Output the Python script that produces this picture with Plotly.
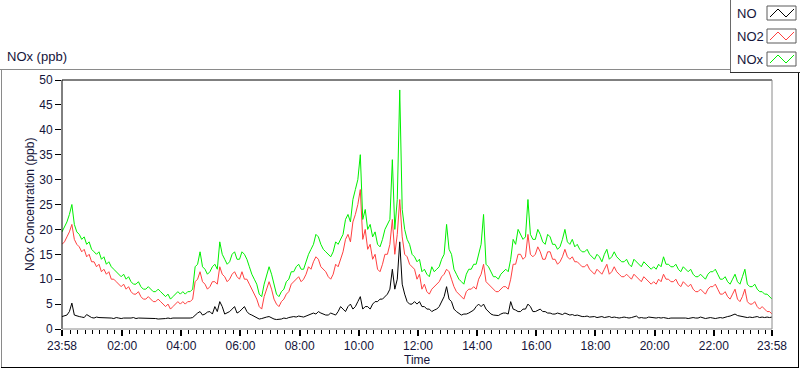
import pandas as pd
import plotly.graph_objects as go

# ---------------- data (5-minute readings, 23:58 -> 23:58 next day) ----------------
start_time = "2015-01-01 23:58"
step = "5min"

no_ppb = [
    2.5, 2.7, 2.8, 3.5, 5.2, 2.8, 2.6, 2.5, 2.4, 2.3, 2.9, 2.6,
    2.3, 2.2, 2.4, 2.3, 2.3, 2.2, 2.2, 2.3, 2.2, 2.1, 2.3, 2.2,
    2.1, 2.2, 2.2, 2.1, 2.2, 2.3, 2.1, 2.2, 2.2, 2.1, 2.1, 2.2,
    2.2, 2.1, 2.1, 2.0, 2.0, 2.1, 2.1, 2.2, 2.1, 2.2, 2.2, 2.1,
    2.2, 2.1, 2.1, 2.2, 2.2, 2.3, 2.8, 3.2, 3.5, 2.8, 3.0, 3.4,
    3.5, 3.0, 4.5, 3.5, 5.5, 4.5, 3.0, 3.2, 3.5, 4.0, 4.5, 3.2,
    3.5, 4.0, 4.5, 3.5, 3.0, 2.8, 2.5, 2.2, 2.0, 2.1, 2.3, 2.4,
    2.5, 2.2, 2.0, 1.9, 1.9, 2.0, 2.2, 2.1, 2.3, 2.4, 2.5, 2.4,
    2.6, 2.5, 2.4, 2.6, 2.8, 3.0, 3.2, 3.0, 3.5, 3.2, 3.0, 2.8,
    2.8, 3.2, 3.0, 2.8, 3.5, 4.5, 4.0, 3.5, 4.5, 5.0, 4.0, 4.5,
    5.5, 6.5, 4.0, 4.5, 4.5, 4.0, 5.0, 5.5, 5.5, 6.0, 6.0, 6.5,
    7.0, 8.0, 12.0, 8.0, 10.0, 17.5, 9.0, 7.0, 5.5, 5.0, 5.0, 5.5,
    5.0, 5.5, 4.5, 4.5, 4.0, 4.0, 3.5, 3.8, 4.0, 4.5, 5.5, 6.5,
    8.5, 6.0, 5.5, 4.0, 3.5, 3.2, 2.8, 3.0, 3.0, 3.2, 3.5, 3.8,
    4.5, 5.0, 4.5, 5.0, 4.0, 3.5, 3.0, 2.8, 2.8, 2.7, 3.0, 3.2,
    3.2, 3.0, 5.5, 4.0, 3.8, 3.5, 3.5, 4.0, 4.0, 5.0, 4.5, 3.5,
    3.5, 3.8, 4.0, 3.5, 3.5, 3.2, 3.2, 3.0, 3.0, 3.2, 3.0, 2.9,
    3.2, 3.0, 2.8, 2.9, 2.7, 2.8, 2.6, 2.5, 2.5, 2.6, 2.4, 2.5,
    2.5, 2.3, 2.4, 2.5, 2.3, 2.4, 2.5, 2.3, 2.4, 2.3, 2.2, 2.3,
    2.4, 2.3, 2.2, 2.3, 2.4, 2.6, 2.2, 2.3, 2.2, 2.2, 2.4, 2.3,
    2.3, 2.2, 2.3, 2.2, 2.3, 2.2, 2.1, 2.2, 2.2, 2.3, 2.2, 2.2,
    2.3, 2.2, 2.1, 2.2, 2.3, 2.2, 2.2, 2.4, 2.2, 2.1, 2.2, 2.3,
    2.2, 2.1, 2.2, 2.3, 2.2, 2.4, 2.5, 2.6, 2.8, 3.0, 2.7, 2.6,
    2.5, 2.4, 2.3, 2.4, 2.3, 2.4, 2.5, 2.3, 2.4, 2.3, 2.4, 2.3, 2.4,
]

no2_ppb = [
    17, 17.5, 18.5, 19.5, 21, 18, 17, 16.5, 15.5, 16, 14.5, 15,
    13.5, 13.5, 12.5, 13, 11.5, 12, 11, 11.5, 10, 10, 9.5, 9,
    8.5, 9, 8, 8.5, 7.5, 7, 7, 7.5, 6.5, 6, 6, 6.5,
    6, 5.5, 5.5, 6, 5.5, 5, 4.5, 5, 4, 4.5, 5, 5.5,
    5, 5.5, 5, 5.5, 5.5, 6, 9.5, 10, 11.5, 9.5, 9, 8,
    8.5, 9.5, 9.5, 9, 12.5, 11, 10.5, 9.5, 10, 11, 11.5, 10.5,
    10, 11.5, 10, 10, 9, 8, 7, 6, 4.5, 4, 6.5, 8,
    9.5, 8, 6, 5, 4.5, 5.5, 6, 7, 7.5, 9, 9.5, 10,
    10.5, 9.5, 10, 11, 12.5, 12, 13.5, 14.5, 14, 12.5, 12, 11.5,
    10.5, 10, 11, 13, 12.5, 14, 15.5, 18, 19, 17.5, 21.5, 23,
    25, 28, 18, 20, 16, 17, 14, 15, 12, 11.5, 13, 15,
    15, 17, 22, 15, 19, 26, 18.5, 15, 14.5, 13, 12.5, 12,
    10, 11, 8, 9, 7.5, 7, 8, 8.5, 9, 9.5, 10.5, 11,
    12, 11.5, 10, 8.5, 7.5, 7, 6.5, 6, 7.5, 8, 8, 8.5,
    8, 10, 11, 13, 9.5, 9, 8.5, 8, 7.5, 7.5, 8, 8.5,
    8.5, 8, 10, 13, 13, 15, 15, 14, 14.5, 19, 15, 14.5,
    15, 16.5, 15.5, 14, 14, 15.5, 15.5, 14, 14, 13, 13.5, 14.5,
    16, 14.5, 14, 14.5, 13.5, 13.5, 13, 12.5, 12.5, 13, 12, 11.5,
    11, 12, 11.5, 11, 12, 13, 11, 11.5, 12.5, 11.5, 11, 10.5,
    10.5, 11, 10.5, 10, 11, 10.5, 10, 9.5, 10.5, 10, 9.5, 9,
    9.5, 9, 10, 9.5, 11, 10, 10, 9.5, 9.5, 10, 9, 8.5,
    9.5, 9, 8.5, 9, 8, 7.5, 7.5, 8, 7.5, 7, 8, 8.5,
    8.5, 9, 8, 7, 7, 7.5, 6.5, 6, 7, 8, 6, 5.5,
    6.5, 8, 5.5, 5, 5, 5.5, 4.5, 4, 4.5, 4, 3.5, 3.5, 3,
]

nox_ppb = [
    19.5, 20.5, 21.5, 23, 25, 21, 19.5, 19, 18, 18.5, 17, 17.5,
    16, 15.5, 15, 15.5, 14, 14.5, 13, 13.5, 12.5, 12, 11.5, 11,
    10.5, 11, 10, 10.5, 9.5, 9, 9, 9.5, 8.5, 8, 8, 8.5,
    8, 7.5, 7.5, 8, 7.5, 7, 6.5, 7, 6, 6.5, 7, 7.5,
    7, 7.5, 7, 7.5, 7.5, 8, 12.5, 13, 15.5, 12.5, 12, 11,
    11.5, 12.5, 13, 12, 17.5, 15, 14, 13, 13.5, 15, 15.5, 14,
    14, 15.5, 15, 14, 12.5, 11, 10, 9, 7, 6.5, 9, 11,
    12.5, 11, 9, 7, 6.5, 7.5, 8, 9.5, 10, 11.5, 11.5, 12.5,
    13, 12, 12, 13.5, 15, 16, 17, 19, 18.5, 17, 16, 15.5,
    15, 14.5, 15.5, 17.5, 17, 18, 19, 22, 23, 21.5, 26, 28,
    30, 35, 22, 24, 20, 21, 18.5, 19.5, 17, 16.5, 18, 20,
    21, 22, 34, 20, 26, 48, 24, 20, 18, 17, 15, 14.5,
    13.5, 14, 11.5, 12, 11, 10.5, 12.5, 11.5, 12, 12.5, 14, 15,
    21, 16, 15, 12, 11, 10, 9.5, 9, 11, 12, 12, 13,
    13, 15, 17, 23, 13, 12.5, 11.5, 10.5, 10.5, 10, 11, 11.5,
    12, 11.5, 14, 18, 17, 20, 19, 18, 18.5, 26, 19, 18,
    18, 20, 19, 17.5, 17, 19, 18.5, 17, 17, 16, 16.5, 18,
    20, 17.5, 17, 18, 16.5, 17, 16, 15.5, 15.5, 16, 15, 14.5,
    14, 15, 14.5, 13.5, 15, 16, 14, 14.5, 15.5, 14.5, 14, 13.5,
    13.5, 14, 13, 12.5, 14, 13.5, 13, 12.5, 13.5, 13, 12.5, 12,
    12.5, 12, 13, 12.5, 14.5, 13, 13, 12.5, 12.5, 13, 12, 11.5,
    12.5, 12, 11.5, 12, 11, 10.5, 10.5, 11, 10.5, 10, 11, 11.5,
    11.5, 12, 11, 10, 10, 10.5, 9.5, 9, 10, 11, 9.5, 9,
    10.5, 12, 9, 8.5, 8.5, 9, 8, 7.5, 7.5, 7, 7, 6.5, 6,
]

series_names = ["NO", "NO2", "NOx"]
series_colors = ["#000000", "#ff4040", "#00f000"]

y_ticks = [0, 5, 10, 15, 20, 25, 30, 35, 40, 45, 50]
x_tick_labels = ["23:58", "02:00", "04:00", "06:00", "08:00", "10:00", "12:00",
                 "14:00", "16:00", "18:00", "20:00", "22:00", "23:58"]
x_tick_times = ["2015-01-01 23:58", "2015-01-02 02:00", "2015-01-02 04:00",
                "2015-01-02 06:00", "2015-01-02 08:00", "2015-01-02 10:00",
                "2015-01-02 12:00", "2015-01-02 14:00", "2015-01-02 16:00",
                "2015-01-02 18:00", "2015-01-02 20:00", "2015-01-02 22:00",
                "2015-01-02 23:58"]

# ---------------- figure ----------------
W, H = 800, 369
L, R, T, B = 62, 28, 80, 40
PW, PH = W - L - R, H - T - B


def px(x):  # pixel -> paper x
    return (x - L) / PW


def py(y):  # pixel -> paper y
    return (H - B - y) / PH


times = pd.date_range(start_time, periods=len(nox_ppb), freq=step)

fig = go.Figure()
for name, vals, col in zip(series_names, [no_ppb, no2_ppb, nox_ppb], series_colors):
    fig.add_trace(go.Scatter(x=times[:len(vals)], y=vals, name=name, mode="lines",
                             line=dict(color=col, width=1), showlegend=False))

font_family = "Liberation Sans, Arial, sans-serif"
txt_col = "#14143a"

fig.update_layout(
    width=W, height=H,
    margin=dict(l=L, r=R, t=T, b=B, pad=0),
    paper_bgcolor="white", plot_bgcolor="white",
    font=dict(family=font_family, size=12, color=txt_col),
    xaxis=dict(
        type="date",
        range=[x_tick_times[0], x_tick_times[-1]],
        tickmode="array", tickvals=x_tick_times, ticktext=x_tick_labels,
        ticks="outside", ticklen=6, tickwidth=2, tickcolor="black",
        minor=dict(ticks="outside", ticklen=4, tickwidth=1, tickcolor="black",
                   dtick=15 * 60 * 1000, tick0="2015-01-02 00:00", showgrid=False),
        showgrid=False, zeroline=False, showline=False,
        tickfont=dict(size=12, color=txt_col),
    ),
    yaxis=dict(
        range=[0, 50], tickmode="array", tickvals=y_ticks,
        ticks="outside", ticklen=6, tickwidth=1, tickcolor="black",
        showgrid=False, zeroline=False, showline=False,
        tickfont=dict(size=12, color=txt_col),
    ),
)

shapes = []
# plot-area border (dark top/left, grey bottom/right)
shapes.append(dict(type="line", xref="paper", yref="paper", x0=0, x1=1, y0=1, y1=1,
                   line=dict(color="black", width=1)))
shapes.append(dict(type="line", xref="paper", yref="paper", x0=0, x1=0, y0=0, y1=1,
                   line=dict(color="black", width=1)))
shapes.append(dict(type="line", xref="paper", yref="paper", x0=0, x1=1, y0=0, y1=0,
                   line=dict(color="#8a8a8a", width=1)))
shapes.append(dict(type="line", xref="paper", yref="paper", x0=1, x1=1, y0=0, y1=1,
                   line=dict(color="#8a8a8a", width=1)))
# outer panel frame
shapes.append(dict(type="line", xref="paper", yref="paper", x0=px(0), x1=px(730),
                   y0=py(69.5), y1=py(69.5), line=dict(color="#8a8a8a", width=1)))
shapes.append(dict(type="line", xref="paper", yref="paper", x0=px(1.5), x1=px(1.5),
                   y0=py(69.5), y1=py(368), line=dict(color="#8a8a8a", width=1)))
shapes.append(dict(type="line", xref="paper", yref="paper", x0=px(1), x1=px(799),
                   y0=py(367.5), y1=py(367.5), line=dict(color="black", width=1)))
shapes.append(dict(type="line", xref="paper", yref="paper", x0=px(798.5), x1=px(798.5),
                   y0=py(73), y1=py(368), line=dict(color="black", width=1)))
# legend frame
shapes.append(dict(type="line", xref="paper", yref="paper", x0=px(730.5), x1=px(730.5),
                   y0=py(0), y1=py(73), line=dict(color="#6a6a6a", width=1)))
shapes.append(dict(type="line", xref="paper", yref="paper", x0=px(730), x1=px(800),
                   y0=py(72.5), y1=py(72.5), line=dict(color="#303030", width=1)))

annotations = []
legend_rows = [13, 36, 59]
for name, col, yc in zip(series_names, series_colors, legend_rows):
    annotations.append(dict(x=px(735), y=py(yc), xref="paper", yref="paper",
                            text=name, showarrow=False, xanchor="left", yanchor="middle",
                            font=dict(size=13, color=txt_col)))
    x0, x1, y0, y1 = 767, 796, yc - 7, yc + 7
    shapes.append(dict(type="rect", xref="paper", yref="paper",
                       x0=px(x0), x1=px(x1), y0=py(y1), y1=py(y0),
                       line=dict(color="#5a5a5a", width=1), fillcolor="white"))
    zig = [(770, yc + 4), (778, yc - 4), (786, yc + 4), (794, yc - 4)]
    path = "M " + " L ".join(f"{px(a)},{py(b)}" for a, b in zig)
    shapes.append(dict(type="path", xref="paper", yref="paper", path=path,
                       line=dict(color=col, width=1)))

annotations.append(dict(x=px(5), y=py(57), xref="paper", yref="paper", text="NOx (ppb)",
                        showarrow=False, xanchor="left", yanchor="middle",
                        font=dict(size=13, color=txt_col)))
annotations.append(dict(x=px(30), y=py(205), xref="paper", yref="paper",
                        text="NOx Concentration (ppb)", textangle=-90, showarrow=False,
                        xanchor="center", yanchor="middle",
                        font=dict(size=12, color=txt_col)))
annotations.append(dict(x=px(417), y=py(360), xref="paper", yref="paper", text="Time",
                        showarrow=False, xanchor="center", yanchor="middle",
                        font=dict(size=12, color=txt_col)))

fig.update_layout(shapes=shapes, annotations=annotations)
fig.write_html("out.html", config={"displayModeBar": False},
               post_script="document.body.style.margin='0';document.body.style.padding='0';")
